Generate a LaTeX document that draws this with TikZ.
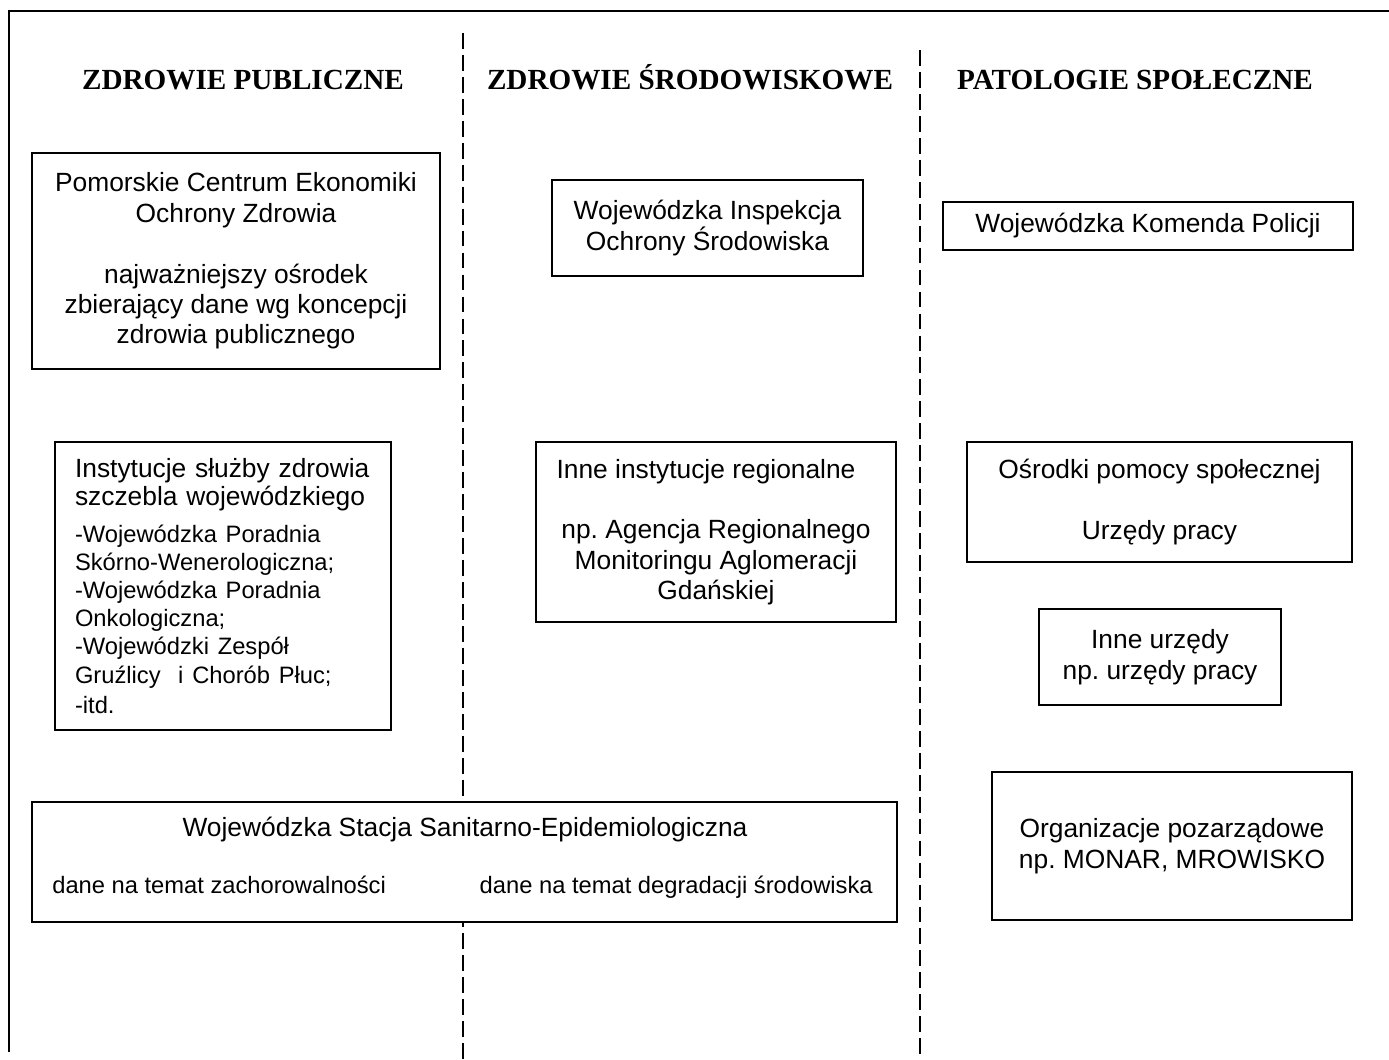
\documentclass[tikz,border=0pt]{standalone}
\usepackage{fontspec}
\setmainfont{Liberation Serif}
\setsansfont{Liberation Sans}
\usepackage{tikz}
\usetikzlibrary{positioning}
\frenchspacing

\begin{document}
\begin{tikzpicture}[x=0.02cm, y=-0.02cm,
        box/.style={draw, fill=white, line width=1.1pt, inner sep=0pt, align=center,
            font=\sffamily\fontsize{15}{17.3}\selectfont},
        head/.style={anchor=base, font=\bfseries\fontsize{16.6}{20}\selectfont},
        note/.style={inner sep=0pt, font=\sffamily\fontsize{13.5}{16}\selectfont},
        divider/.style={line width=1.1pt, dash pattern=on 9pt off 3.5pt}]
        \useasboundingbox (0,0) rectangle (1389,1059);

        % Frame
        \draw[line width=1.1pt] (9,1052) -- (9,11) -- (1389,11);

        % Column dividers
        \draw[divider] (463,33) -- (463,1059);
        \draw[divider] (920,50) -- (920,1059);

        % Headings
        \node[head] (hpub) at (243,89) {ZDROWIE PUBLICZNE};
        \node[head] (hsrod) at (690,89) {ZDROWIE ŚRODOWISKOWE};
        \node[head] (hpat) at (1135,89) {PATOLOGIE SPOŁECZNE};

        % Zdrowie publiczne
        \node[box, minimum width=8.16cm, minimum height=4.32cm] (pomorskie) at (236,261)
            {Pomorskie Centrum Ekonomiki\\ Ochrony Zdrowia\\[17.3pt]
             najważniejszy ośrodek\\ zbierający dane wg koncepcji\\ zdrowia publicznego};
        \node[box, align=left, text width=5.92cm, inner xsep=0.4cm, minimum height=5.76cm] (instytucje) at (223,586)
            {\fontsize{15}{16}\selectfont Instytucje służby zdrowia\\ szczebla wojewódzkiego\\[5pt]
             \fontsize{13.5}{16}\selectfont -Wojewódzka Poradnia\\ Skórno-Wenerologiczna;\\
             -Wojewódzka Poradnia\\ Onkologiczna;\\ -Wojewódzki Zespół\\
             Gruźlicy\ \ i Chorób Płuc;\\ -itd.};

        % Zdrowie srodowiskowe
        \node[box, minimum width=6.22cm, minimum height=1.92cm] (inspekcja) at (707.5,228)
            {Wojewódzka Inspekcja\\ Ochrony Środowiska};
        \node[box, minimum width=7.2cm, minimum height=3.6cm] (regionalne) at (716,532)
            {Inne instytucje regionalne\hspace*{0.4cm}\\[17.3pt]
             np. Agencja Regionalnego\\ Monitoringu Aglomeracji\\ Gdańskiej};

        % Patologie spoleczne
        \node[box, minimum width=8.2cm, minimum height=0.96cm] (policja) at (1148,226)
            {Wojewódzka Komenda Policji};
        \node[box, minimum width=7.7cm, minimum height=2.4cm] (osrodki) at (1159.5,502)
            {Ośrodki pomocy społecznej\\[17.3pt] Urzędy pracy};
        \node[box, minimum width=4.84cm, minimum height=1.92cm] (urzedy) at (1160,657)
            {Inne urzędy\\ np. urzędy pracy};
        \node[box, minimum width=7.2cm, minimum height=2.96cm] (organizacje) at (1172,846)
            {Organizacje pozarządowe\\ np. MONAR, MROWISKO};

        % Sanepid
        \node[box, minimum width=17.3cm, minimum height=2.4cm] (stacja) at (464.5,862) {};
        \node[box, draw=none] (stacjaT) at (465,830) {Wojewódzka Stacja Sanitarno-Epidemiologiczna};
        \node[note, anchor=base west] (stacjaL) at (52,893) {dane na temat zachorowalności};
        \node[note, anchor=base east] (stacjaR) at (873,893) {dane na temat degradacji środowiska};
    \end{tikzpicture}
\end{document}
